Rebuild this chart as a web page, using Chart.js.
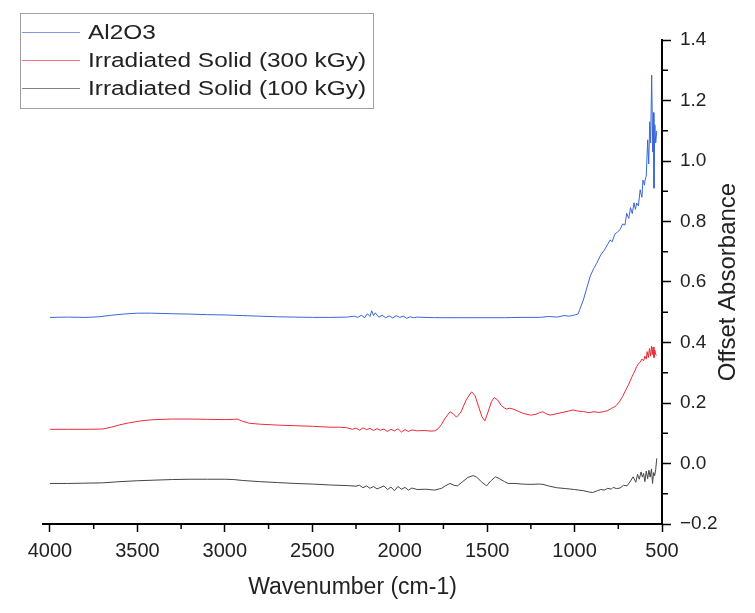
<!DOCTYPE html>
<html>
<head>
<meta charset="utf-8">
<script src="https://cdn.jsdelivr.net/npm/chart.js@4.4.1/dist/chart.umd.min.js"></script>
<style>
  body { margin: 0; background: #fff; }
  #wrap { width: 755px; height: 613px; }
</style>
</head>
<body>
<div id="wrap"><canvas id="myChart" width="755" height="613"></canvas></div>
<script>
// series labels
const seriesNames = ["Al2O3", "Irradiated Solid (300 kGy)", "Irradiated Solid (100 kGy)"];

// Al2O3 (blue)
const al2o3Wn = [4000, 3900, 3800, 3720, 3650, 3580, 3500, 3420, 3300, 3200, 3100, 3000, 2900, 2800, 2700, 2600, 2500, 2400, 2300, 2260, 2240, 2220, 2200, 2185, 2170, 2160, 2150, 2140, 2120, 2100, 2080, 2060, 2040, 2020, 2000, 1980, 1960, 1940, 1920, 1900, 1850, 1800, 1700, 1600, 1500, 1400, 1300, 1200, 1150, 1100, 1060, 1030, 1000, 980, 970, 950, 930, 910, 890, 873, 850, 830, 810, 797, 785, 770, 755, 740, 725, 712, 702, 690, 680, 670, 660, 652, 645, 635, 625, 615, 609, 600, 597, 590, 582, 576, 570, 565, 559, 553, 549, 546, 541, 536, 530];
const al2o3Abs = [0.483, 0.484, 0.483, 0.485, 0.490, 0.494, 0.497, 0.497, 0.495, 0.494, 0.492, 0.491, 0.489, 0.487, 0.485, 0.484, 0.483, 0.483, 0.484, 0.487, 0.483, 0.490, 0.482, 0.495, 0.486, 0.505, 0.489, 0.498, 0.484, 0.490, 0.482, 0.488, 0.481, 0.489, 0.483, 0.487, 0.480, 0.485, 0.482, 0.484, 0.483, 0.482, 0.482, 0.482, 0.482, 0.482, 0.483, 0.483, 0.486, 0.484, 0.489, 0.487, 0.491, 0.494, 0.51, 0.54, 0.58, 0.62, 0.645, 0.662, 0.69, 0.705, 0.725, 0.739, 0.733, 0.758, 0.765, 0.773, 0.792, 0.788, 0.827, 0.81, 0.846, 0.826, 0.862, 0.84, 0.861, 0.852, 0.905, 0.88, 0.937, 0.92, 0.937, 0.95, 1.07, 0.99, 1.13, 1.06, 1.284, 1.03, 1.16, 0.91, 1.12, 1.06, 1.10];

// Irradiated 300 kGy (red)
const solid300Wn = [4000, 3900, 3800, 3700, 3650, 3600, 3550, 3500, 3450, 3400, 3300, 3200, 3100, 3000, 2950, 2930, 2900, 2860, 2800, 2700, 2600, 2500, 2400, 2340, 2300, 2270, 2250, 2230, 2210, 2190, 2170, 2150, 2130, 2110, 2090, 2070, 2050, 2030, 2010, 1990, 1970, 1950, 1930, 1900, 1860, 1820, 1800, 1780, 1760, 1740, 1712, 1695, 1675, 1650, 1620, 1589, 1570, 1550, 1530, 1513, 1495, 1475, 1459, 1440, 1420, 1400, 1388, 1370, 1351, 1320, 1290, 1260, 1246, 1220, 1200, 1181, 1165, 1140, 1100, 1060, 1030, 1009, 980, 950, 920, 890, 860, 837, 810, 790, 770, 759, 740, 725, 702, 690, 675, 660, 645, 635, 625, 615, 605, 598, 590, 585, 578, 572, 566, 560, 556, 551, 546, 541, 536, 530];
const solid300Abs = [0.113, 0.113, 0.113, 0.114, 0.12, 0.128, 0.134, 0.139, 0.143, 0.145, 0.147, 0.147, 0.146, 0.145, 0.146, 0.147, 0.14, 0.133, 0.13, 0.127, 0.125, 0.123, 0.12, 0.12, 0.118, 0.113, 0.117, 0.110, 0.118, 0.112, 0.116, 0.109, 0.115, 0.110, 0.114, 0.106, 0.113, 0.108, 0.115, 0.104, 0.112, 0.106, 0.111, 0.108, 0.109, 0.107, 0.108, 0.115, 0.13, 0.15, 0.171, 0.165, 0.153, 0.17, 0.21, 0.237, 0.225, 0.19, 0.155, 0.141, 0.17, 0.205, 0.218, 0.21, 0.192, 0.183, 0.18, 0.183, 0.18, 0.172, 0.165, 0.161, 0.160, 0.163, 0.168, 0.171, 0.165, 0.16, 0.165, 0.17, 0.174, 0.177, 0.173, 0.172, 0.168, 0.171, 0.169, 0.171, 0.175, 0.182, 0.188, 0.193, 0.207, 0.222, 0.249, 0.262, 0.283, 0.30, 0.32, 0.33, 0.335, 0.345, 0.34, 0.355, 0.345, 0.37, 0.35, 0.38, 0.355, 0.388, 0.36, 0.385, 0.35, 0.375, 0.36, 0.358];

// Irradiated 100 kGy (black)
const solid100Wn = [4000, 3900, 3800, 3700, 3600, 3500, 3400, 3300, 3200, 3100, 3000, 2950, 2900, 2800, 2700, 2600, 2500, 2400, 2300, 2250, 2230, 2210, 2190, 2170, 2150, 2130, 2113, 2090, 2070, 2050, 2030, 2010, 1990, 1970, 1950, 1930, 1900, 1850, 1800, 1760, 1740, 1712, 1690, 1670, 1640, 1610, 1580, 1560, 1530, 1503, 1480, 1452, 1430, 1400, 1380, 1340, 1300, 1250, 1200, 1181, 1150, 1104, 1050, 1000, 950, 920, 897, 870, 850, 830, 810, 790, 780, 760, 740, 720, 700, 680, 665, 650, 640, 630, 620, 612, 605, 598, 590, 582, 575, 568, 560, 554, 548, 542, 536, 530];
const solid100Abs = [-0.066, -0.066, -0.065, -0.064, -0.060, -0.057, -0.055, -0.053, -0.052, -0.052, -0.052, -0.053, -0.056, -0.060, -0.063, -0.066, -0.068, -0.071, -0.073, -0.075, -0.072, -0.080, -0.074, -0.082, -0.076, -0.084, -0.080, -0.074, -0.086, -0.078, -0.090, -0.076, -0.085, -0.079, -0.088, -0.081, -0.086, -0.085, -0.088, -0.082, -0.074, -0.066, -0.072, -0.074, -0.060, -0.046, -0.040, -0.045, -0.062, -0.074, -0.058, -0.044, -0.050, -0.060, -0.066, -0.066, -0.068, -0.069, -0.068, -0.069, -0.074, -0.080, -0.083, -0.086, -0.090, -0.094, -0.096, -0.090, -0.086, -0.088, -0.082, -0.085, -0.079, -0.083, -0.081, -0.072, -0.074, -0.058, -0.044, -0.062, -0.036, -0.052, -0.028, -0.045, -0.033, -0.06, -0.025, -0.05, -0.022, -0.045, -0.018, -0.066, -0.03, -0.04, -0.02, 0.017];

// axis ticks
const xTicks = [4000, 3500, 3000, 2500, 2000, 1500, 1000, 500];
const xMinor = [3750, 3250, 2750, 2250, 1750, 1250, 750];
const yTicks = [-0.2, 0.0, 0.2, 0.4, 0.6, 0.8, 1.0, 1.2, 1.4];
const yMinor = [-0.1, 0.1, 0.3, 0.5, 0.7, 0.9, 1.1, 1.3];

const seriesColors = ["#3a66d6", "#ec2b36", "#444444"];
const legendColors = ["#7d97e2", "#f0707c", "#808080"];
const FONT = "'Liberation Sans', Arial, sans-serif";

function toPoints(xs, ys) {
    return xs.map((x, i) => ({ x: x, y: ys[i] }));
}

// minor ticks, the rotated y title and the framed legend
const extras = {
    id: 'extras',
    afterDraw(chart) {
        const ctx = chart.ctx;
        const xs = chart.scales.x, ys = chart.scales.y;
        ctx.save();
        ctx.strokeStyle = '#000';
        ctx.lineWidth = 1.5;
        xMinor.forEach(v => {
            const px = xs.getPixelForValue(v);
            ctx.beginPath(); ctx.moveTo(px, xs.top); ctx.lineTo(px, xs.top + 5); ctx.stroke();
        });
        yMinor.forEach(v => {
            const py = ys.getPixelForValue(v);
            ctx.beginPath(); ctx.moveTo(ys.left, py); ctx.lineTo(ys.left + 6, py); ctx.stroke();
        });
        ctx.restore();

        ctx.save();
        ctx.fillStyle = '#222';
        ctx.font = '24px ' + FONT;
        ctx.translate(728, (ys.top + ys.bottom) / 2);
        ctx.rotate(-Math.PI / 2);
        ctx.textAlign = 'center';
        ctx.textBaseline = 'middle';
        ctx.fillText('Offset Absorbance', 0, 0);
        ctx.restore();

        ctx.save();
        ctx.strokeStyle = '#a0a0a0';
        ctx.lineWidth = 1;
        ctx.strokeRect(20.5, 13.5, 353, 95);
        const rows = [32, 60, 88];
        chart.data.datasets.forEach((ds, i) => {
            ctx.strokeStyle = legendColors[i];
            ctx.beginPath(); ctx.moveTo(22, rows[i] + 0.5); ctx.lineTo(80, rows[i] + 0.5); ctx.stroke();
            ctx.save();
            ctx.fillStyle = '#222';
            ctx.font = '20px ' + FONT;
            ctx.textBaseline = 'middle';
            ctx.translate(88, rows[i] + 1);
            ctx.scale(1.22, 1);
            ctx.fillText(ds.label, 0, 0);
            ctx.restore();
        });
        ctx.restore();
    }
};

new Chart(document.getElementById('myChart'), {
    type: 'line',
    data: {
        datasets: [
            { label: seriesNames[0], data: toPoints(al2o3Wn, al2o3Abs), borderColor: seriesColors[0] },
            { label: seriesNames[1], data: toPoints(solid300Wn, solid300Abs), borderColor: seriesColors[1] },
            { label: seriesNames[2], data: toPoints(solid100Wn, solid100Abs), borderColor: seriesColors[2] }
        ]
    },
    options: {
        responsive: false,
        animation: false,
        elements: {
            point: { radius: 0 },
            line: { borderWidth: 1, tension: 0 }
        },
        layout: { padding: { left: 43, top: 40, right: 0, bottom: 0 } },
        plugins: {
            legend: { display: false },
            tooltip: { enabled: false }
        },
        scales: {
            x: {
                type: 'linear',
                reverse: true,
                min: 500,
                max: 4040,
                afterBuildTicks: axis => { axis.ticks = xTicks.map(v => ({ value: v })); },
                afterFit: axis => { axis.height = 89; },
                grid: { drawOnChartArea: false, tickLength: 8, color: '#000', tickWidth: 1.5 },
                border: { display: true, color: '#000', width: 2 },
                ticks: {
                    padding: 7,
                    color: '#222',
                    font: { family: FONT, size: 20 },
                    maxRotation: 0,
                    callback: v => String(v)
                },
                title: {
                    display: true,
                    text: 'Wavenumber (cm-1)',
                    color: '#222',
                    font: { family: FONT, size: 23 },
                    padding: { top: 0, bottom: 12 }
                }
            },
            y: {
                position: 'right',
                min: -0.2,
                max: 1.4,
                afterBuildTicks: axis => { axis.ticks = yTicks.map(v => ({ value: v })); },
                afterFit: axis => { axis.width = 93; },
                grid: { drawOnChartArea: false, tickLength: 9, color: '#000', tickWidth: 1.5 },
                border: { display: true, color: '#000', width: 2 },
                ticks: {
                    padding: 9,
                    color: '#222',
                    font: { family: FONT, size: 19 },
                    callback: v => v.toFixed(1).replace('-', '\u2212')
                }
            }
        }
    },
    plugins: [extras]
});
</script>
</body>
</html>
